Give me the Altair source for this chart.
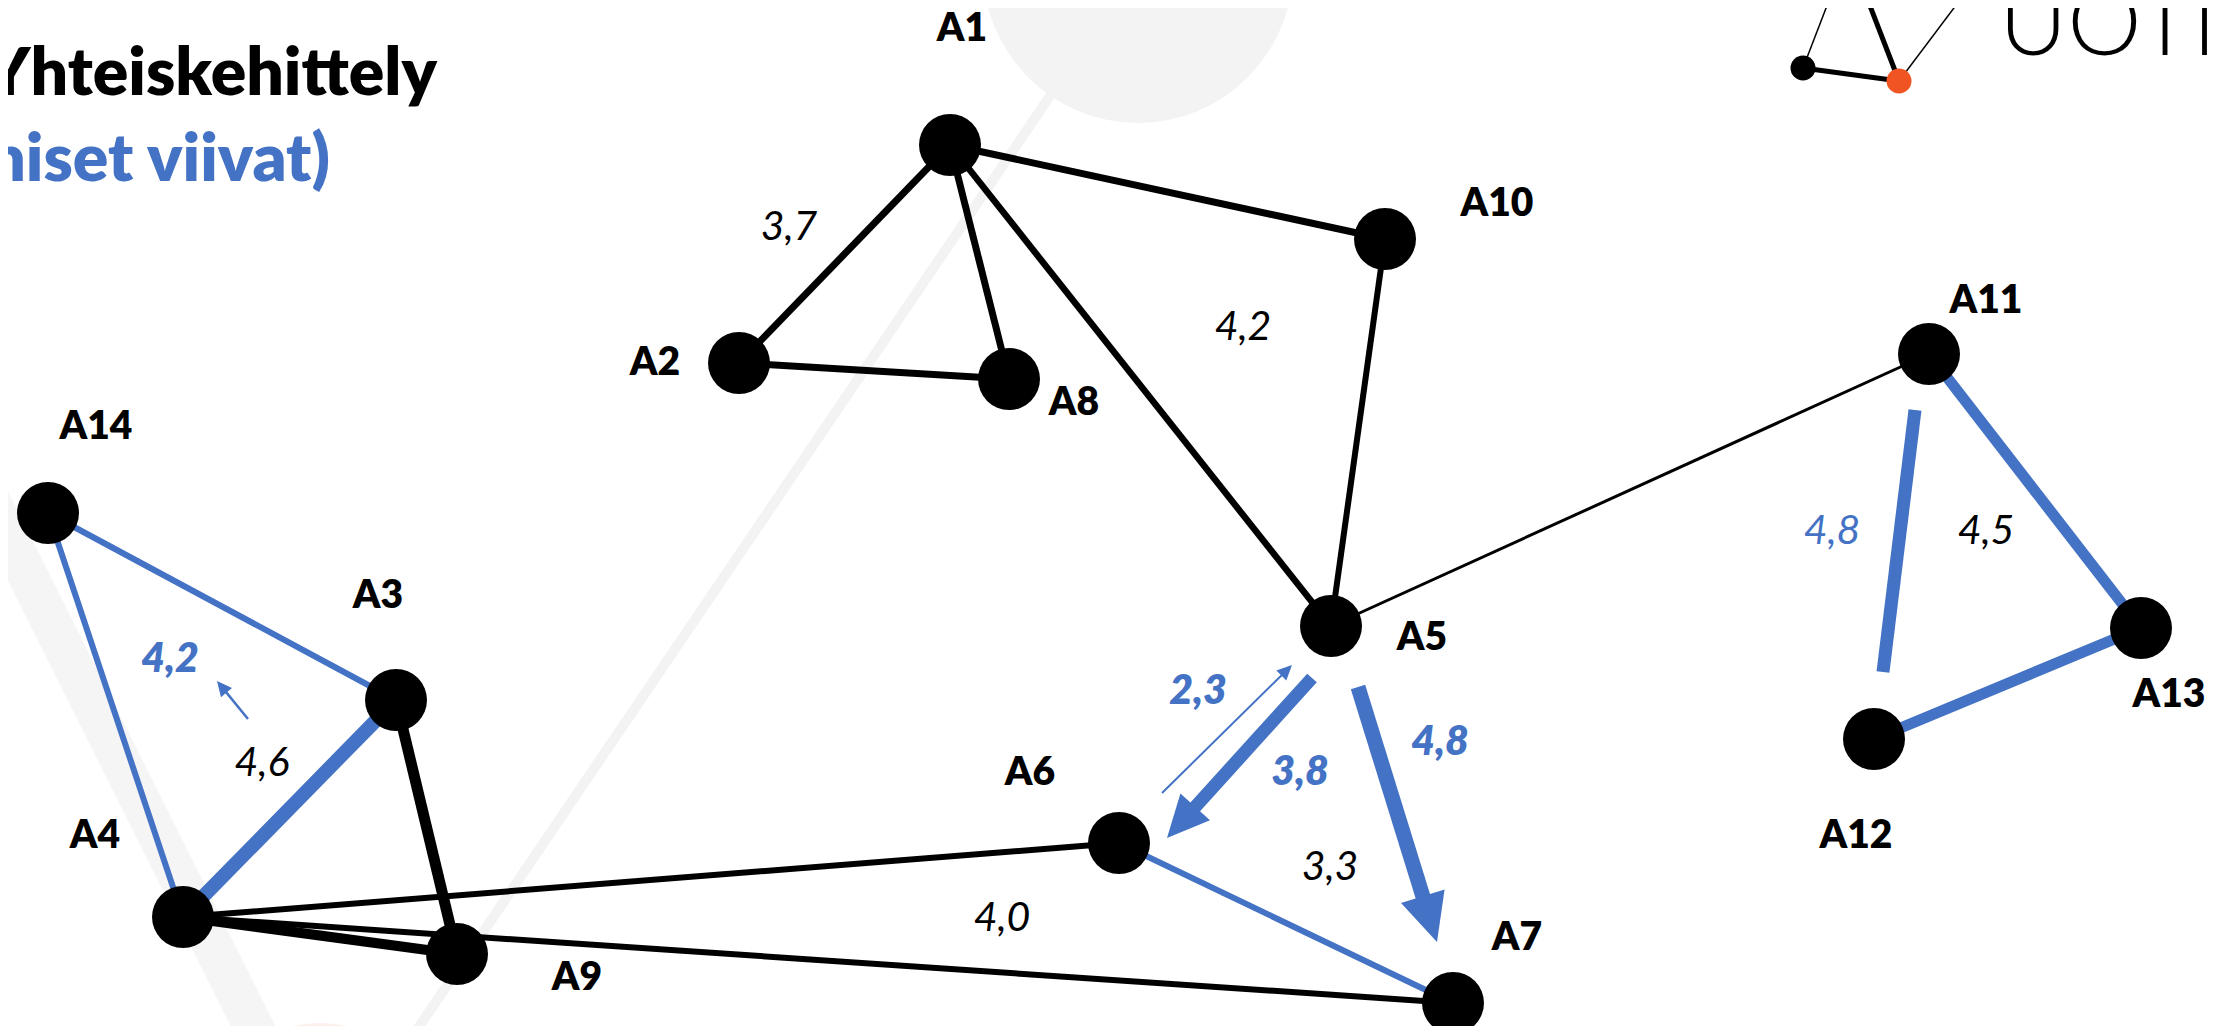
import math
import altair as alt
import pandas as pd

BLUE = "#4472C4"

# ---------------- data ----------------
node_names = ["A1", "A2", "A3", "A4", "A5", "A6", "A7", "A8", "A9", "A10", "A11", "A12", "A13", "A14"]
node_x = [950, 739, 396, 183, 1331, 1119, 1453, 1009, 457, 1385, 1929, 1874, 2141, 48]
node_y = [145, 363, 700, 917, 626, 843, 1003, 379, 954, 239, 354, 739, 628, 513]
label_x = [962, 655, 378, 95, 1422, 1030, 1517, 1074, 577, 1497, 1986, 1856, 2169, 96]
label_y = [29, 363, 596, 836, 638, 773, 938, 403, 978, 204, 301, 836, 695, 427]

edge_from = ["A1", "A1", "A1", "A1", "A2", "A10", "A5", "A3", "A4", "A4", "A4",
             "A14", "A14", "A3", "A6", "A11", "A12"]
edge_to = ["A2", "A8", "A5", "A10", "A8", "A5", "A11", "A9", "A9", "A6", "A7",
           "A3", "A4", "A4", "A7", "A13", "A13"]
edge_kind = ["musta"] * 11 + ["sininen"] * 6
edge_width = [7, 7, 6.5, 7, 7, 6, 3, 11, 10, 6, 6,
              6, 6, 14, 6, 11, 11]

# free-standing blue segment between A11 and A12
seg_x0, seg_y0, seg_x1, seg_y1, seg_w = [1915], [410], [1883], [672], [13]

# arrows: start -> tip
arrow_x0 = [1312, 1358, 1162, 248]
arrow_y0 = [678, 687, 793, 719]
arrow_x1 = [1167, 1437, 1292, 217]
arrow_y1 = [838, 942, 665, 681]
arrow_w = [13, 15, 2, 2.5]
arrow_head = [42, 48, 15, 15]

num_text = ["3,7", "4,2", "4,6", "3,3", "4,0", "4,5",
            "4,2", "2,3", "3,8", "4,8",
            "4,8"]
num_x = [789, 1243, 262, 1330, 1002, 1986,
         170, 1198, 1300, 1440,
         1832]
num_y = [228, 328, 764, 868, 919, 532,
         660, 692, 773, 743,
         532]
num_group = ["black"] * 6 + ["bluebold"] * 4 + ["blue"]

title_text = ["Yhteiskehittely", "(siniset viivat)"]
title_x = [437, 330]
title_y = [95, 181]
title_color = ["#000000", BLUE]

# decorative watermark and logo
wm_line_x0 = [1052, -30]
wm_line_y0 = [93, 460]
wm_line_x1 = [410, 262]
wm_line_y1 = [1040, 1044]
wm_line_w = [10, 40]
wm_line_c = ["#f3f3f3", "#f5f5f5"]
wm_circ_x = [1138, 320]
wm_circ_y = [-32, 1156]
wm_circ_d = [310, 266]
wm_circ_c = ["#f3f3f3", "#fdf1ee"]

logo_node_x = [1803, 1899]
logo_node_y = [68, 81]
logo_node_c = ["#000000", "#f05423"]
logo_line_x0 = [1803, 1803, 1899, 1899]
logo_line_y0 = [68, 68, 81, 81]
logo_line_x1 = [1899, 1833, 1860, 1975]
logo_line_y1 = [81, -10, -20, -20]
logo_line_w = [5, 1.5, 5, 1.5]
logo_word = ["UOTI"]

# ---------------- frames ----------------
pos = dict(zip(node_names, zip(node_x, node_y)))
nodes = pd.DataFrame({"name": node_names, "x": node_x, "y": node_y,
                      "lx": label_x, "ly": label_y})
edges = pd.DataFrame({
    "x": [pos[a][0] for a in edge_from], "y": [pos[a][1] for a in edge_from],
    "x2": [pos[b][0] for b in edge_to], "y2": [pos[b][1] for b in edge_to],
    "kind": edge_kind, "w": edge_width,
})
edges = pd.concat([edges, pd.DataFrame({"x": seg_x0, "y": seg_y0, "x2": seg_x1, "y2": seg_y1,
                                        "kind": ["sininen"], "w": seg_w})], ignore_index=True)

rows = []
for x0, y0, x1, y1, w, h in zip(arrow_x0, arrow_y0, arrow_x1, arrow_y1, arrow_w, arrow_head):
    dx, dy = x1 - x0, y1 - y0
    L = math.hypot(dx, dy)
    ux, uy = dx / L, dy / L
    rows.append({"x": x0, "y": y0, "x2": x1 - ux * h * 0.85, "y2": y1 - uy * h * 0.85,
                 "w": w, "hx": x1 - ux * h / 2, "hy": y1 - uy * h / 2,
                 "size": h * h, "ang": math.degrees(math.atan2(dx, -dy)) % 360})
arrows = pd.DataFrame(rows)

nums = pd.DataFrame({"t": num_text, "x": num_x, "y": num_y, "g": num_group})
titles = pd.DataFrame({"t": title_text, "x": title_x, "y": title_y, "c": title_color})
wm_lines = pd.DataFrame({"x": wm_line_x0, "y": wm_line_y0, "x2": wm_line_x1, "y2": wm_line_y1,
                         "w": wm_line_w, "c": wm_line_c})
wm_circ = pd.DataFrame({"x": wm_circ_x, "y": wm_circ_y,
                        "s": [d * d for d in wm_circ_d], "c": wm_circ_c})
logo_nodes = pd.DataFrame({"x": logo_node_x, "y": logo_node_y, "c": logo_node_c})
logo_lines = pd.DataFrame({"x": logo_line_x0, "y": logo_line_y0, "x2": logo_line_x1,
                           "y2": logo_line_y1, "w": logo_line_w})
logo_text = pd.DataFrame({"t": logo_word, "x": [1999], "y": [55]})

# ---------------- scales ----------------
W, H = 2218, 1018
xs = alt.Scale(domain=[8, 8 + W], nice=False, zero=False)
ys = alt.Scale(domain=[8, 8 + H], nice=False, zero=False, reverse=True)


def X(f):
    return alt.X(f, type="quantitative", scale=xs, axis=None)


def Y(f):
    return alt.Y(f, type="quantitative", scale=ys, axis=None)


kind_color = alt.Color("kind:N", scale=alt.Scale(domain=["musta", "sininen"], range=["#000000", BLUE]),
                       legend=None)

# ---------------- layers ----------------
wm_line_layer = alt.Chart(wm_lines).mark_rule(strokeCap="butt").encode(
    x=X("x"), y=Y("y"), x2="x2", y2="y2",
    strokeWidth=alt.StrokeWidth("w:Q", scale=None),
    color=alt.Color("c:N", scale=None))
wm_circ_layer = alt.Chart(wm_circ).mark_circle(opacity=1).encode(
    x=X("x"), y=Y("y"), size=alt.Size("s:Q", scale=None), color=alt.Color("c:N", scale=None))

edge_layer = alt.Chart(edges).mark_rule(strokeCap="butt").encode(
    x=X("x"), y=Y("y"), x2="x2", y2="y2",
    strokeWidth=alt.StrokeWidth("w:Q", scale=None), color=kind_color)

shaft_layer = alt.Chart(arrows).mark_rule(strokeCap="butt", color=BLUE).encode(
    x=X("x"), y=Y("y"), x2="x2", y2="y2",
    strokeWidth=alt.StrokeWidth("w:Q", scale=None))
head_layer = alt.Chart(arrows).mark_point(
    shape="M0,-1L0.95,1L-0.95,1Z", filled=True, color=BLUE, opacity=1, strokeWidth=0).encode(
    x=X("hx"), y=Y("hy"), size=alt.Size("size:Q", scale=None),
    angle=alt.Angle("ang:Q", scale=None))

node_layer = alt.Chart(nodes).mark_circle(size=62 * 62, color="#000000", opacity=1).encode(
    x=X("x"), y=Y("y"))
node_label_layer = alt.Chart(nodes).mark_text(
    font="Lato", fontWeight=800, fontSize=39, color="#000000",
    align="center", baseline="middle").encode(x=X("lx"), y=Y("ly"), text="name:N")

num_black = alt.Chart(nums).transform_filter("datum.g == 'black'").mark_text(
    font="Lato", fontStyle="italic", fontSize=41, color="#000000",
    align="center", baseline="middle").encode(x=X("x"), y=Y("y"), text="t:N")
num_bluebold = alt.Chart(nums).transform_filter("datum.g == 'bluebold'").mark_text(
    font="Lato", fontStyle="italic", fontWeight=800, fontSize=41, color=BLUE,
    align="center", baseline="middle").encode(x=X("x"), y=Y("y"), text="t:N")
num_blue = alt.Chart(nums).transform_filter("datum.g == 'blue'").mark_text(
    font="Lato", fontStyle="italic", fontSize=41, color=BLUE,
    align="center", baseline="middle").encode(x=X("x"), y=Y("y"), text="t:N")

title_layer = alt.Chart(titles).mark_text(
    font="Lato", fontWeight=800, fontSize=66, align="right", baseline="alphabetic").encode(
    x=X("x"), y=Y("y"), text="t:N", color=alt.Color("c:N", scale=None))

logo_line_layer = alt.Chart(logo_lines).mark_rule(strokeCap="butt", color="#000000").encode(
    x=X("x"), y=Y("y"), x2="x2", y2="y2", strokeWidth=alt.StrokeWidth("w:Q", scale=None))
logo_node_layer = alt.Chart(logo_nodes).mark_circle(size=25 * 25, opacity=1).encode(
    x=X("x"), y=Y("y"), color=alt.Color("c:N", scale=None))
logo_text_layer = alt.Chart(logo_text).mark_text(
    font="Lato", fontWeight=300, fontSize=94, color="#000000",
    align="left", baseline="alphabetic").encode(x=X("x"), y=Y("y"), text="t:N")

chart = alt.layer(
    wm_line_layer, wm_circ_layer,
    edge_layer, shaft_layer, head_layer,
    node_layer, node_label_layer,
    num_black, num_bluebold, num_blue, title_layer,
    logo_line_layer, logo_node_layer, logo_text_layer,
).properties(
    width=W, height=H, padding=0, autosize=alt.AutoSizeParams(type="none"),
    background="#ffffff",
).configure_view(stroke=None)

chart.save("out.html", embed_options={"renderer": "svg", "actions": False})
